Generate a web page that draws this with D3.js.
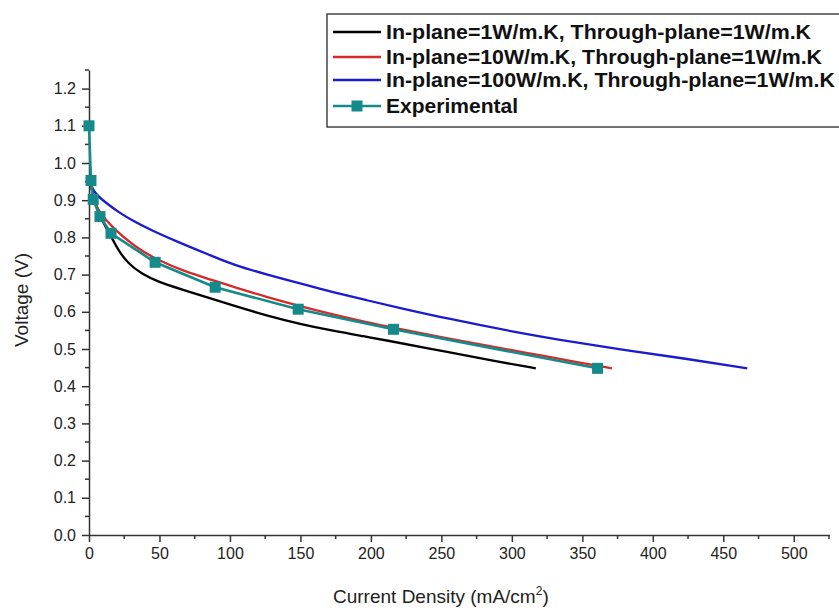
<!DOCTYPE html>
<html><head><meta charset="utf-8">
<script src="https://cdn.jsdelivr.net/npm/d3@7"></script>
<style>body{margin:0;background:#fff}svg{display:block}</style>
</head><body><svg id="c" width="839" height="610"></svg>
<script>
const seriesNames = ["In-plane=1W/m.K, Through-plane=1W/m.K","In-plane=10W/m.K, Through-plane=1W/m.K","In-plane=100W/m.K, Through-plane=1W/m.K","Experimental"];
const colors = ["#000000","#d42a2a","#1a1ad0","#148a8a"];
const blackI = [0.5,2,5,10,16,20.8,27.9,37.4,49.2,65.8,78.8,102,126,150,173,197,207,254,290,317];
const blackV = [0.96,0.925,0.885,0.84,0.801,0.765,0.729,0.702,0.680,0.660,0.645,0.617,0.590,0.567,0.549,0.533,0.526,0.492,0.466,0.448];
const redI = [0.5,2,4,6.6,16,32.7,49.2,68,88,102,126,150,173,197,216,250,278,310,349,371];
const redV = [0.96,0.925,0.895,0.872,0.828,0.774,0.738,0.708,0.685,0.667,0.640,0.615,0.593,0.572,0.557,0.532,0.512,0.490,0.463,0.448];
const blueI = [0.5,1.9,5,11.4,20.8,32.7,44.5,63.4,88,102,126,150,173,197,221,254,301,349,377,420,467];
const blueV = [0.96,0.935,0.915,0.895,0.868,0.841,0.819,0.787,0.749,0.727,0.700,0.676,0.653,0.631,0.610,0.582,0.546,0.515,0.499,0.476,0.448];
const expI = [0,1.4,3,7.8,15.6,46.9,89.5,148.4,216,360.8];
const expV = [1.10,0.953,0.902,0.856,0.811,0.733,0.666,0.607,0.553,0.448];
const xTicks = [0,50,100,150,200,250,300,350,400,450,500];
const yTicks = [0,0.1,0.2,0.3,0.4,0.5,0.6,0.7,0.8,0.9,1.0,1.1,1.2];

const svg = d3.select("#c");
const m = {l:89, t:70, r:10, b:75};
const W = 839, H = 610;
const x = d3.scaleLinear().domain([0,525]).range([m.l, W-m.r]);
const y = d3.scaleLinear().domain([0,1.25]).range([H-m.b, m.t]);
const axisColor = "#333";
const font = "'Liberation Sans', Arial, sans-serif";

const xMinor = d3.range(25,526,50);
const yMinor = d3.range(0.05,1.26,0.1);
const gx = svg.append("g").attr("transform",`translate(0,${y(0)})`);
gx.call(d3.axisBottom(x).tickValues(xTicks).tickSize(7).tickSizeOuter(0).tickPadding(6).tickFormat(d3.format("d")));
gx.selectAll(".minor").data(xMinor).join("line").attr("x1",d=>x(d)).attr("x2",d=>x(d)).attr("y1",0).attr("y2",4).attr("stroke",axisColor).attr("stroke-width",1.5);
const gy = svg.append("g").attr("transform",`translate(${x(0)},0)`);
gy.call(d3.axisLeft(y).tickValues(yTicks).tickSize(7).tickSizeOuter(0).tickPadding(6).tickFormat(d3.format(".1f")));
gy.selectAll(".minor").data(yMinor).join("line").attr("x1",0).attr("x2",-4).attr("y1",d=>y(d)).attr("y2",d=>y(d)).attr("stroke",axisColor).attr("stroke-width",1.5);
[gx,gy].forEach(g=>{
  g.selectAll("path.domain").attr("stroke",axisColor).attr("stroke-width",1.5);
  g.selectAll(".tick line").attr("stroke",axisColor).attr("stroke-width",1.5);
  g.selectAll(".tick text").attr("font-family",font).attr("font-size",16).attr("fill","#222");
});

// titles
const xt = svg.append("text").attr("x",333).attr("y",603).attr("font-family",font).attr("font-size",19).attr("fill","#222");
xt.append("tspan").text("Current Density (mA/cm");
xt.append("tspan").attr("dy",-8).attr("font-size",12).text("2");
xt.append("tspan").attr("dy",8).text(")");
svg.append("text").attr("transform","translate(28,300) rotate(-90)").attr("text-anchor","middle").attr("font-family",font).attr("font-size",19).attr("fill","#222").text("Voltage (V)");

const line = d3.line().x(d=>x(d[0])).y(d=>y(d[1])).curve(d3.curveBasis);
const series = [d3.zip(blackI,blackV), d3.zip(redI,redV), d3.zip(blueI,blueV)];
series.forEach((s,i)=>{
  svg.append("path").datum(s).attr("d",line).attr("fill","none").attr("stroke",colors[i]).attr("stroke-width",2.3);
});
const exp = d3.zip(expI,expV);
svg.append("path").datum(exp).attr("d",d3.line().x(d=>x(d[0])).y(d=>y(d[1]))).attr("fill","none").attr("stroke",colors[3]).attr("stroke-width",2.6);
svg.selectAll(".mk").data(exp).join("rect").attr("x",d=>x(d[0])-5.5).attr("y",d=>y(d[1])-5.5).attr("width",11).attr("height",11).attr("fill",colors[3]);

// legend
const lg = svg.append("g");
lg.append("rect").attr("x",327).attr("y",14).attr("width",530).attr("height",113).attr("fill","#fff").attr("stroke","#444").attr("stroke-width",1.5);
const rowsY = [32,57,80,106];
const rowEnd = [811,822,835,518];
seriesNames.forEach((n,i)=>{
  lg.append("line").attr("x1",333).attr("x2",381).attr("y1",rowsY[i]).attr("y2",rowsY[i]).attr("stroke",colors[i]).attr("stroke-width",i==3?2.6:2.3);
  if(i==3) lg.append("rect").attr("x",351.5).attr("y",rowsY[i]-5.5).attr("width",11).attr("height",11).attr("fill",colors[i]);
  lg.append("text").attr("x",386).attr("y",rowsY[i]+7).attr("font-family",font).attr("font-weight","bold").attr("font-size",19.5).attr("fill","#111")
    .attr("textLength",rowEnd[i]-386).attr("lengthAdjust","spacingAndGlyphs").text(n);
});
</script></body></html>
